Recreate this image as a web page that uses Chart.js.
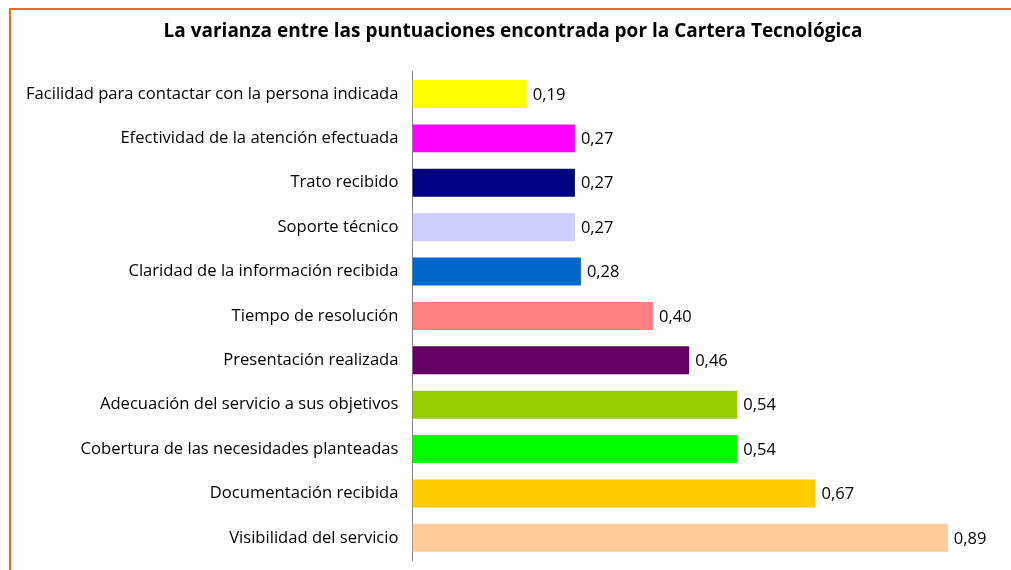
<!DOCTYPE html>
<html>
<head>
<meta charset="utf-8">
<script src="https://cdn.jsdelivr.net/npm/chart.js@4.4.1/dist/chart.umd.min.js"></script>
<style>
  html, body { margin: 0; padding: 0; background: #fff; overflow: hidden; }
  #frame {
    position: absolute; left: 9px; top: 8px; width: 1040px; height: 600px;
    border-left: 2px solid #f26b0f; border-top: 2px solid #f26b0f;
  }
  #wrap { position: absolute; left: 0; top: 0; width: 1003px; height: 574px; }
</style>
</head>
<body>
<div id="frame"><div id="wrap"><canvas id="chart"></canvas></div></div>
<script>
// datos
const categories = [
  "Facilidad para contactar con la persona indicada",
  "Efectividad de la atención efectuada",
  "Trato recibido",
  "Soporte técnico",
  "Claridad de la información recibida",
  "Tiempo de resolución",
  "Presentación realizada",
  "Adecuación del servicio a sus objetivos",
  "Cobertura de las necesidades planteadas",
  "Documentación recibida",
  "Visibilidad del servicio"
]
const varianza = [0.19, 0.27, 0.27, 0.27, 0.28, 0.40, 0.46, 0.54, 0.54, 0.67, 0.89]
const barColors = ["#ffff00", "#ff00ff", "#000080", "#ccccff", "#0066cc", "#ff8080",
                   "#660066", "#99cc00", "#00ff00", "#ffcc00", "#ffcc99"]

const FONT = "'Open Sans', sans-serif"

// etiquetas de valor al final de cada barra
const valueLabels = {
  id: "valueLabels",
  afterDatasetsDraw(chart) {
    const ctx = chart.ctx
    const meta = chart.getDatasetMeta(0)
    ctx.save()
    ctx.font = "16.5px " + FONT
    ctx.fillStyle = "#000"
    ctx.textBaseline = "middle"
    ctx.textAlign = "left"
    meta.data.forEach((bar, i) => {
      const txt = varianza[i].toFixed(2).replace(".", ",")
      ctx.fillText(txt, bar.x + 6, bar.y + 1)
    })
    ctx.restore()
  }
}

new Chart(document.getElementById("chart"), {
  type: "bar",
  data: {
    labels: categories,
    datasets: [{
      data: varianza,
      backgroundColor: barColors,
      borderWidth: 0,
      barPercentage: 0.63,
      categoryPercentage: 1
    }]
  },
  options: {
    indexAxis: "y",
    responsive: true,
    maintainAspectRatio: false,
    animation: false,
    layout: { padding: { left: 1, right: 0, top: 0, bottom: 9 } },
    plugins: {
      legend: { display: false },
      tooltip: { enabled: false },
      title: {
        display: true,
        text: "La varianza entre las puntuaciones encontrada por la Cartera Tecnológica",
        color: "#000",
        font: { family: FONT, size: 19, weight: "bold" },
        padding: { top: 10, bottom: 29 }
      }
    },
    scales: {
      x: {
        display: false,
        min: 0,
        max: 1
      },
      y: {
        grid: { display: false, drawTicks: false },
        border: { display: true, color: "#888888", width: 1 },
        ticks: {
          color: "#000",
          padding: 14,
          font: { family: FONT, size: 16.6 }
        }
      }
    }
  },
  plugins: [valueLabels]
})
</script>
</body>
</html>
